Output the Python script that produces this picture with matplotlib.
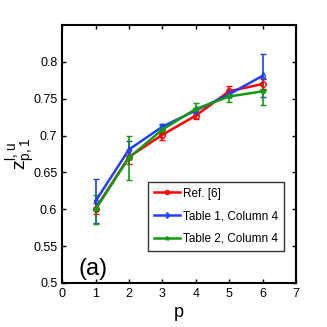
import matplotlib
matplotlib.use("Agg")
import matplotlib.pyplot as plt
from matplotlib.lines import Line2D

p = [1, 2, 3, 4, 5, 6]
ref6 = [0.601, 0.671, 0.701, 0.727, 0.760, 0.770]
ref6_err = [0.008, 0.010, 0.007, 0.005, 0.007, 0.007]
t1c4 = [0.611, 0.681, 0.712, 0.734, 0.756, 0.781]
t1c4_err = [0.030, 0.012, 0.004, 0.004, 0.004, 0.029]
t2c4 = [0.600, 0.670, 0.708, 0.736, 0.753, 0.760]
t2c4_err = [0.020, 0.030, 0.006, 0.008, 0.008, 0.018]
labels = ["Ref. [6]", "Table 1, Column 4", "Table 2, Column 4"]

plt.rcParams['font.family'] = ['Liberation Sans', 'DejaVu Sans']
fig = plt.figure(figsize=(3.27, 3.27), dpi=100)
ax = fig.add_axes([0.19, 0.1346, 0.715, 0.789])

styles = [('#ff0000', 'o', 'none'), ('#1f3fff', 'd', 'none'), ('#119911', '*', '#119911')]
series = [(ref6, ref6_err), (t1c4, t1c4_err), (t2c4, t2c4_err)]
handles = []
for (c, m, mfc), (vals, errs), lab in zip(styles, series, labels):
    ax.errorbar(p, vals, yerr=errs, color=c, marker=m, ms=4, mfc=mfc,
                lw=1.8, elinewidth=1.2, capsize=2)
    handles.append(Line2D([], [], color=c, marker=m, ms=3, mfc=mfc, lw=1.8))

ax.set_xlim(0, 7)
ax.set_ylim(0.5, 0.85)
ax.set_xticks(range(0, 8))
ax.set_yticks([0.5, 0.55, 0.6, 0.65, 0.7, 0.75, 0.8])
ax.set_yticklabels(['0.5', '0.55', '0.6', '0.65', '0.7', '0.75', '0.8'])
ax.tick_params(direction='in', top=True, right=True, labelsize=9, length=3, width=1)
for s in ax.spines.values():
    s.set_linewidth(1.5)

ax.set_xlabel('p', fontsize=13, labelpad=3)
ax.set_ylabel(r'$\mathregular{z^{l,u}_{p,1}}$', fontsize=14)
ax.yaxis.set_label_coords(-0.105, 0.5)
ax.text(0.07, 0.01, '(a)', transform=ax.transAxes, fontsize=17, va='bottom', ha='left')

leg = ax.legend(handles, labels, loc='lower right', bbox_to_anchor=(0.95, 0.125), fontsize=8.5,
                frameon=True, fancybox=False, edgecolor='black', handlelength=2.2,
                borderpad=0.5, labelspacing=0.9, handletextpad=0.3, borderaxespad=0)
leg.get_frame().set_linewidth(1.0)

fig.savefig('out.png', dpi=100)
